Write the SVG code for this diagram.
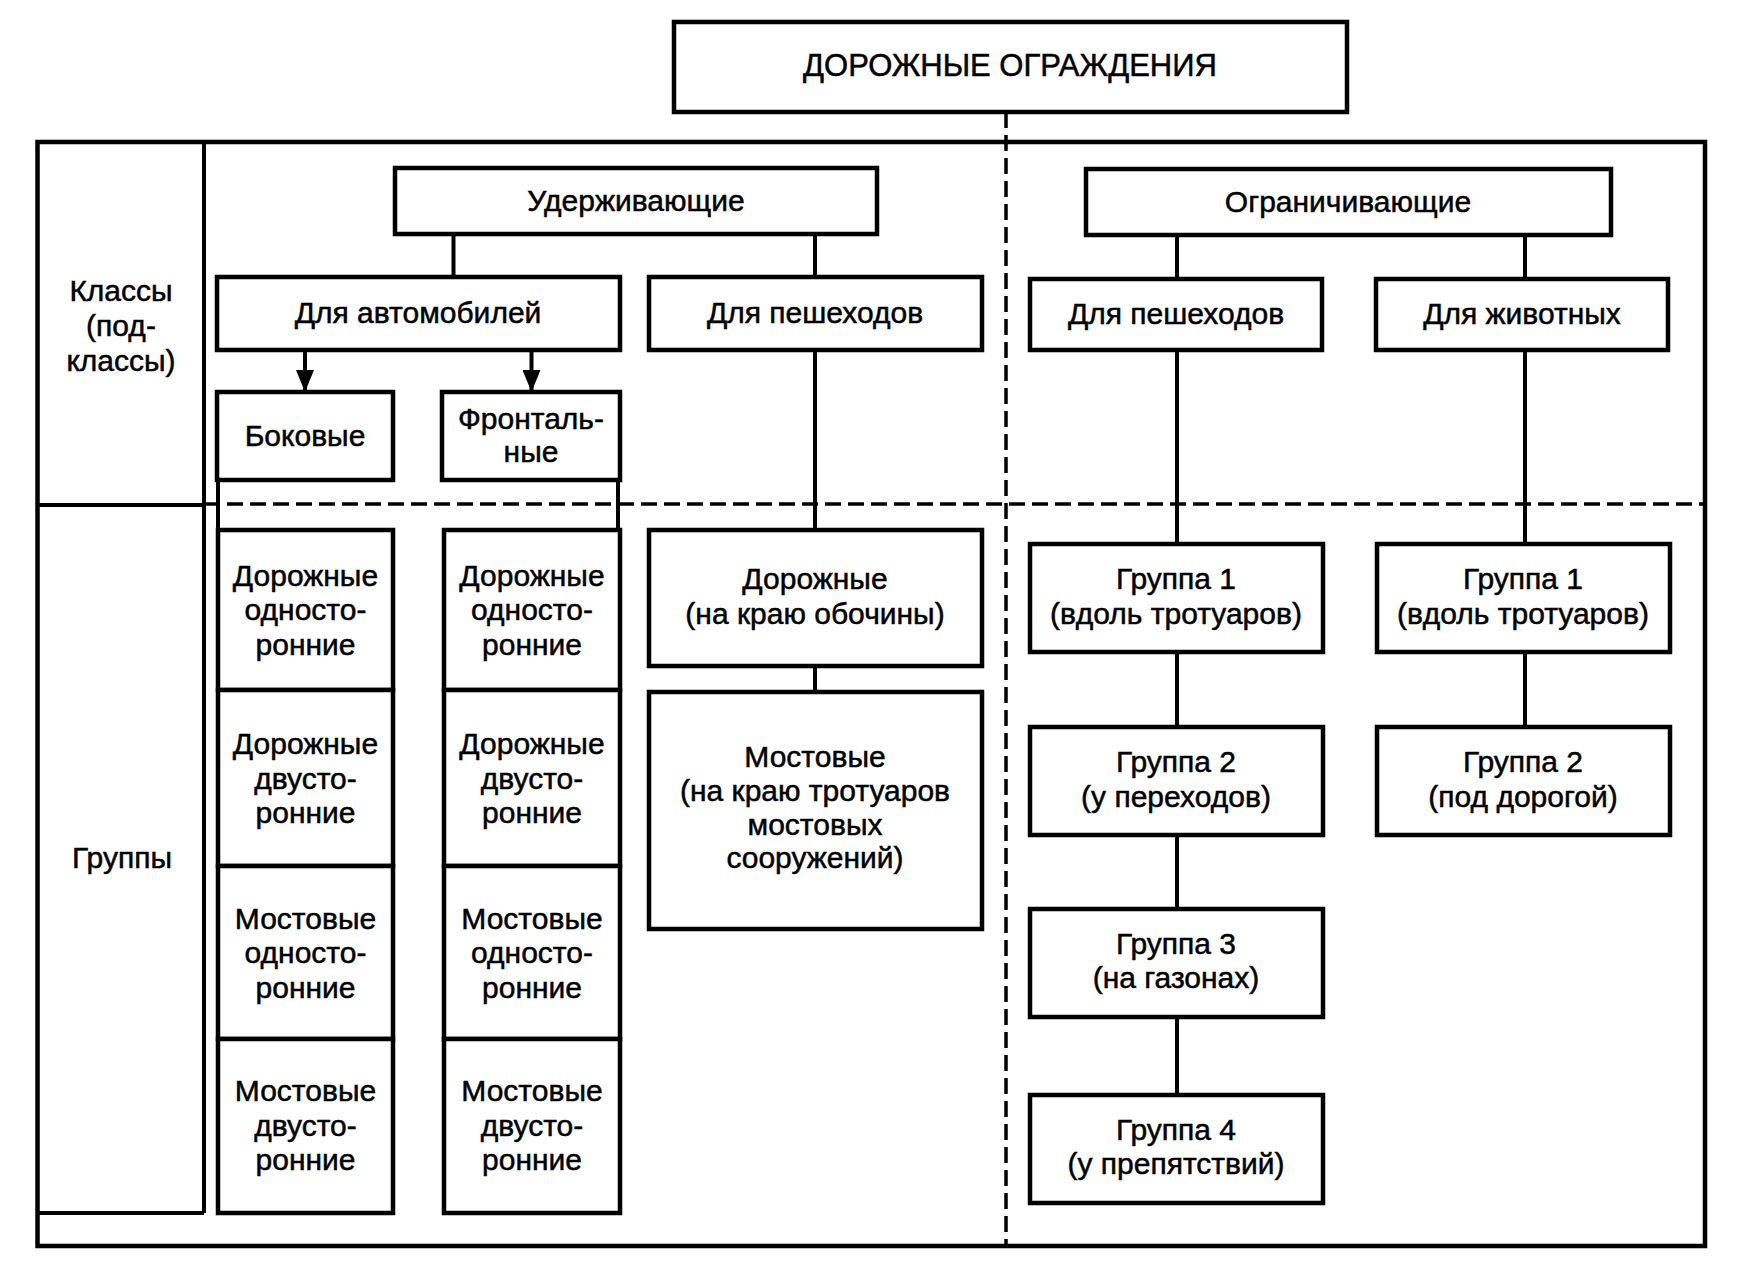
<svg xmlns="http://www.w3.org/2000/svg" width="1737" height="1275" viewBox="0 0 1737 1275">
<style>
.box{fill:#fff;stroke:#000;stroke-width:4.5}
.ln{stroke:#000;stroke-width:4;fill:none}
.dash{stroke:#000;stroke-width:3.5;fill:none;stroke-dasharray:16 7}
text{font-family:"Liberation Sans",Arial,sans-serif;font-size:30px;fill:#000;text-anchor:middle;stroke:#000;stroke-width:0.5}
.title{font-size:31px}
</style>
<defs>
<marker id="arr" viewBox="0 0 22 18" refX="22" refY="9" markerWidth="22" markerHeight="18" markerUnits="userSpaceOnUse" orient="auto">
<path d="M0,0 L22,9 L0,18 Z" fill="#000"/>
</marker>
</defs>
<rect width="1737" height="1275" fill="#fff"/>
<g id="frame">
<rect x="37.5" y="142" width="1667.5" height="1104" fill="none" stroke="#000" stroke-width="4.5"/>
<line class="ln" x1="204" y1="142" x2="204" y2="1213" stroke-width="4.5"/>
<line class="ln" x1="37" y1="1213" x2="204" y2="1213" stroke-width="4.5"/>
<line class="ln" x1="37" y1="505" x2="204" y2="505" stroke-width="4.5"/>
<line class="dash" x1="204" y1="504" x2="1705" y2="504"/>
<line class="dash" x1="1006" y1="112" x2="1006" y2="1246"/>
<text x="121" y="301">Классы</text>
<text x="121" y="336">(под-</text>
<text x="121" y="371">классы)</text>
<text x="122" y="868">Группы</text>
</g>
<g id="connectors">
<line class="ln" x1="453.5" y1="234" x2="453.5" y2="277"/>
<line class="ln" x1="815" y1="234" x2="815" y2="277"/>
<line class="ln" x1="1177" y1="235" x2="1177" y2="279"/>
<line class="ln" x1="1525" y1="235" x2="1525" y2="279"/>
<line class="ln" x1="305" y1="350" x2="305" y2="392" marker-end="url(#arr)"/>
<line class="ln" x1="531.5" y1="350" x2="531.5" y2="392" marker-end="url(#arr)"/>
<line class="ln" x1="218" y1="480" x2="218" y2="530"/>
<line class="ln" x1="618" y1="480" x2="618" y2="530"/>
<line class="ln" x1="815" y1="350" x2="815" y2="530"/>
<line class="ln" x1="815" y1="666" x2="815" y2="692"/>
<line class="ln" x1="1177" y1="350" x2="1177" y2="544"/>
<line class="ln" x1="1177" y1="652" x2="1177" y2="727"/>
<line class="ln" x1="1177" y1="835" x2="1177" y2="909"/>
<line class="ln" x1="1177" y1="1017" x2="1177" y2="1095"/>
<line class="ln" x1="1525" y1="350" x2="1525" y2="544"/>
<line class="ln" x1="1525" y1="652" x2="1525" y2="727"/>
</g>
<g id="root"><rect class="box" x="674" y="22" width="673" height="90"/><text class="title" x="1010" y="76">ДОРОЖНЫЕ ОГРАЖДЕНИЯ</text></g>
<g id="uderzh"><rect class="box" x="395" y="168" width="482" height="66"/><text x="636" y="211">Удерживающие</text></g>
<g id="ogran"><rect class="box" x="1086" y="169" width="525" height="66"/><text x="1348" y="212">Ограничивающие</text></g>
<g id="auto"><rect class="box" x="217" y="277" width="403" height="73"/><text x="418" y="323">Для автомобилей</text></g>
<g id="ped1"><rect class="box" x="649" y="277" width="333" height="73"/><text x="815" y="323">Для пешеходов</text></g>
<g id="ped2"><rect class="box" x="1030" y="279" width="292" height="71"/><text x="1176" y="324">Для пешеходов</text></g>
<g id="anim"><rect class="box" x="1376" y="279" width="292" height="71"/><text x="1522" y="324">Для животных</text></g>
<g id="bok"><rect class="box" x="217" y="392" width="176" height="88"/><text x="305" y="446">Боковые</text></g>
<g id="front"><rect class="box" x="442" y="392" width="178" height="88"/><text x="531" y="429">Фронталь-</text><text x="531" y="462">ные</text></g>
<g id="b1"><rect class="box" x="218" y="530" width="175" height="160"/><text x="305.5" y="586">Дорожные</text><text x="305.5" y="620">односто-</text><text x="305.5" y="655">ронние</text></g>
<g id="b2"><rect class="box" x="218" y="690" width="175" height="176"/><text x="305.5" y="754">Дорожные</text><text x="305.5" y="789">двусто-</text><text x="305.5" y="823">ронние</text></g>
<g id="b3"><rect class="box" x="218" y="866" width="175" height="173"/><text x="305.5" y="929">Мостовые</text><text x="305.5" y="963">односто-</text><text x="305.5" y="998">ронние</text></g>
<g id="b4"><rect class="box" x="218" y="1039" width="175" height="174"/><text x="305.5" y="1101">Мостовые</text><text x="305.5" y="1136">двусто-</text><text x="305.5" y="1170">ронние</text></g>
<g id="f1"><rect class="box" x="444" y="530" width="176" height="160"/><text x="532" y="586">Дорожные</text><text x="532" y="620">односто-</text><text x="532" y="655">ронние</text></g>
<g id="f2"><rect class="box" x="444" y="690" width="176" height="176"/><text x="532" y="754">Дорожные</text><text x="532" y="789">двусто-</text><text x="532" y="823">ронние</text></g>
<g id="f3"><rect class="box" x="444" y="866" width="176" height="173"/><text x="532" y="929">Мостовые</text><text x="532" y="963">односто-</text><text x="532" y="998">ронние</text></g>
<g id="f4"><rect class="box" x="444" y="1039" width="176" height="174"/><text x="532" y="1101">Мостовые</text><text x="532" y="1136">двусто-</text><text x="532" y="1170">ронние</text></g>
<g id="dor"><rect class="box" x="649" y="530" width="333" height="136"/><text x="815" y="589">Дорожные</text><text x="815" y="624">(на краю обочины)</text></g>
<g id="most"><rect class="box" x="649" y="692" width="333" height="237"/><text x="815" y="767">Мостовые</text><text x="815" y="801">(на краю тротуаров</text><text x="815" y="835">мостовых</text><text x="815" y="868">сооружений)</text></g>
<g id="g1"><rect class="box" x="1030" y="544" width="293" height="108"/><text x="1176" y="589">Группа 1</text><text x="1176" y="624">(вдоль тротуаров)</text></g>
<g id="g2"><rect class="box" x="1030" y="727" width="293" height="108"/><text x="1176" y="772">Группа 2</text><text x="1176" y="807">(у переходов)</text></g>
<g id="g3"><rect class="box" x="1030" y="909" width="293" height="108"/><text x="1176" y="954">Группа 3</text><text x="1176" y="988">(на газонах)</text></g>
<g id="g4"><rect class="box" x="1030" y="1095" width="293" height="108"/><text x="1176" y="1140">Группа 4</text><text x="1176" y="1174">(у препятствий)</text></g>
<g id="a1"><rect class="box" x="1377" y="544" width="293" height="108"/><text x="1523" y="589">Группа 1</text><text x="1523" y="624">(вдоль тротуаров)</text></g>
<g id="a2"><rect class="box" x="1377" y="727" width="293" height="108"/><text x="1523" y="772">Группа 2</text><text x="1523" y="807">(под дорогой)</text></g>
</svg>
